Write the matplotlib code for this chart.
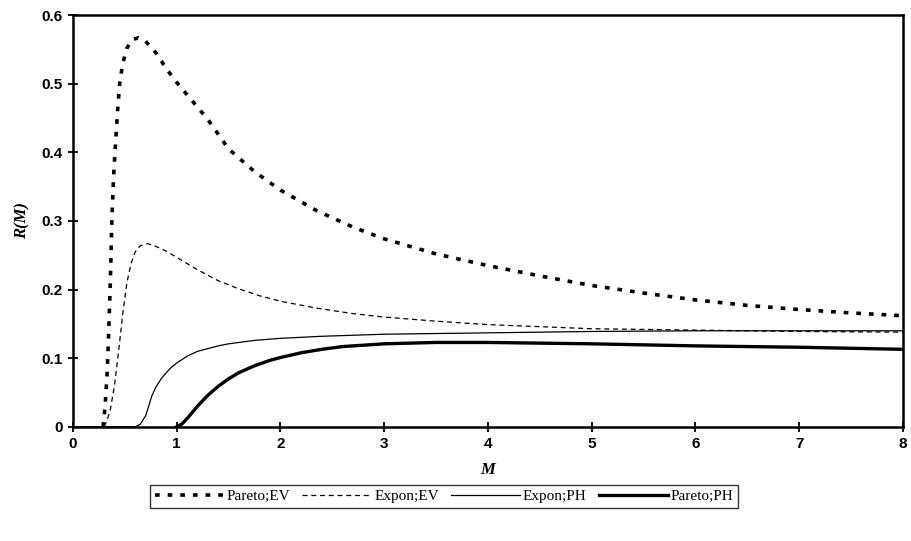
import numpy as np
import matplotlib
matplotlib.use("Agg")
import matplotlib.pyplot as plt

# values
m_pev = [0.29, 0.31, 0.33, 0.345, 0.36, 0.375, 0.39, 0.405, 0.43, 0.45, 0.48, 0.52, 0.57, 0.63, 0.70, 0.80,
         0.90, 1.00, 1.15, 1.30, 1.50, 1.75, 2.00, 2.35, 2.70, 3.00, 3.50, 4.00, 4.50, 5.00,
         5.50, 6.00, 6.50, 7.00, 7.50, 8.00]
r_pev = [0.0, 0.03, 0.08, 0.14, 0.21, 0.30, 0.36, 0.40, 0.46, 0.50, 0.53, 0.552, 0.564, 0.567, 0.562, 0.545,
         0.522, 0.502, 0.475, 0.448, 0.405, 0.372, 0.345, 0.315, 0.291, 0.274, 0.252, 0.235, 0.220, 0.206,
         0.195, 0.185, 0.177, 0.171, 0.166, 0.162]

m_eev = [0.30, 0.33, 0.36, 0.40, 0.44, 0.48, 0.52, 0.56, 0.60, 0.65, 0.72, 0.80, 0.90, 1.00, 1.20, 1.40,
         1.60, 1.80, 2.00, 2.35, 2.70, 3.00, 3.50, 4.00, 4.50, 5.00, 6.00, 7.00, 8.00]
r_eev = [0.0, 0.01, 0.025, 0.06, 0.11, 0.165, 0.21, 0.238, 0.255, 0.264, 0.267, 0.263, 0.256, 0.247, 0.229, 0.213,
         0.201, 0.191, 0.183, 0.173, 0.165, 0.160, 0.154, 0.149, 0.146, 0.143, 0.141, 0.139, 0.138]

m_eph = [0.0, 0.60, 0.65, 0.70, 0.73, 0.76, 0.80, 0.85, 0.90, 0.95, 1.00, 1.10, 1.20, 1.30, 1.40,
         1.50, 1.75, 2.00, 2.40, 3.00, 4.00, 5.00, 6.00, 7.00, 8.00]
r_eph = [0.0, 0.0, 0.004, 0.016, 0.030, 0.045, 0.058, 0.070, 0.079, 0.087, 0.093, 0.103, 0.110, 0.114, 0.118,
         0.121, 0.126, 0.129, 0.132, 0.135, 0.137, 0.139, 0.140, 0.140, 0.140]

m_pph = [1.00, 1.05, 1.10, 1.15, 1.20, 1.30, 1.40, 1.50, 1.60, 1.75, 1.90, 2.00, 2.20, 2.40, 2.60,
         2.80, 3.00, 3.50, 4.00, 4.50, 5.00, 6.00, 7.00, 8.00]
r_pph = [0.0, 0.004, 0.012, 0.021, 0.030, 0.046, 0.059, 0.070, 0.079, 0.089, 0.097, 0.101, 0.108, 0.113, 0.117,
         0.119, 0.121, 0.123, 0.123, 0.122, 0.121, 0.118, 0.116, 0.113]

labels = ['Pareto;EV', 'Expon;EV', 'Expon;PH', 'Pareto;PH']

fig = plt.figure(figsize=(9.12, 5.41), dpi=100)
ax = fig.add_axes([0.080, 0.211, 0.910, 0.761])

ax.plot(m_pev, r_pev, color='black', lw=2.6, dashes=(1.3, 2.2), label=labels[0])
ax.plot(m_eev, r_eev, color='black', lw=0.9, dashes=(4, 3), label=labels[1])
ax.plot(m_eph, r_eph, color='black', lw=0.9, label=labels[2])
ax.plot(m_pph, r_pph, color='black', lw=2.4, label=labels[3])

ax.set_xlim(0, 8)
ax.set_ylim(0, 0.6)
ax.set_xticks(range(0, 9))
ax.set_yticks([0, 0.1, 0.2, 0.3, 0.4, 0.5, 0.6])
ax.set_yticklabels(['0', '0.1', '0.2', '0.3', '0.4', '0.5', '0.6'])
for s in ax.spines.values():
    s.set_linewidth(1.8)
ax.tick_params(direction='inout', length=7, width=1.3, labelsize=11, pad=4)
for t in ax.get_xticklabels() + ax.get_yticklabels():
    t.set_family('Liberation Sans')
    t.set_fontweight('bold')

ax.set_xlabel('M', family='Liberation Serif', style='italic', weight='bold', fontsize=12, labelpad=8)
ax.set_ylabel('R(M)', family='Liberation Serif', style='italic', weight='bold', fontsize=12, labelpad=8)

leg = fig.legend(loc='center', bbox_to_anchor=(0.487, 0.083), ncol=4, frameon=True, fancybox=False,
                 handlelength=4.5, handletextpad=0.2, columnspacing=0.8, borderpad=0.3,
                 prop={'family': 'Liberation Serif', 'size': 11})
leg.get_frame().set_edgecolor('black')
leg.get_frame().set_linewidth(1.0)

fig.savefig('out.png', dpi=100)
